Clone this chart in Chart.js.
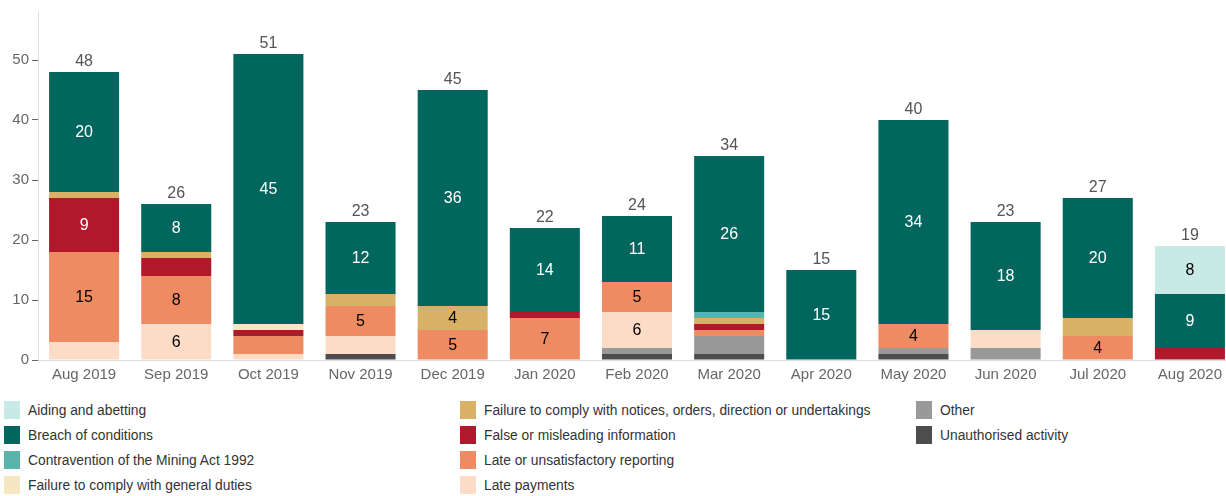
<!DOCTYPE html>
<html>
<head>
<meta charset="utf-8">
<script src="https://cdn.jsdelivr.net/npm/chart.js@4"></script>
<style>
  html, body { margin: 0; padding: 0; overflow: hidden; background: #fff; }
  body { width: 1226px; height: 496px; position: relative; font-family: "Liberation Sans", Arial, sans-serif; }
  #wrap { position: absolute; left: 0; top: 0; width: 1240px; height: 390px; }
  #legend { position: absolute; left: 4px; top: 401px; display: grid; grid-template-rows: repeat(4, 25px); grid-auto-flow: column; grid-template-columns: 456px 456px 300px; }
  .item { display: flex; align-items: flex-start; font-size: 13.8px; color: #333; line-height: 18px; }
  .box { width: 16px; height: 18px; margin-right: 8px; flex: none; }
  .item span:last-child { position: relative; top: 1px; }
</style>
</head>
<body>
<div id="wrap"><canvas id="myChart"></canvas></div>
<div id="legend"></div>
<script>
const months = ["Aug 2019", "Sep 2019", "Oct 2019", "Nov 2019", "Dec 2019", "Jan 2020", "Feb 2020",
    "Mar 2020", "Apr 2020", "May 2020", "Jun 2020", "Jul 2020", "Aug 2020"];

// stacked bottom to top
const unauthorised   = [0, 0, 0, 1, 0, 0, 1, 1, 0, 1, 0, 0, 0];
const other          = [0, 0, 0, 0, 0, 0, 1, 3, 0, 1, 2, 0, 0];
const latePayments   = [3, 6, 1, 3, 0, 0, 6, 0, 0, 0, 3, 0, 0];
const lateReporting  = [15, 8, 3, 5, 5, 7, 5, 1, 0, 4, 0, 4, 0];
const falseInfo      = [9, 3, 1, 0, 0, 1, 0, 1, 0, 0, 0, 0, 2];
const failureNotices = [1, 1, 0, 2, 4, 0, 0, 1, 0, 0, 0, 3, 0];
const failureGeneral = [0, 0, 1, 0, 0, 0, 0, 0, 0, 0, 0, 0, 0];
const contravention  = [0, 0, 0, 0, 0, 0, 0, 1, 0, 0, 0, 0, 0];
const breach         = [20, 8, 45, 12, 36, 14, 11, 26, 15, 34, 18, 20, 9];
const aiding         = [0, 0, 0, 0, 0, 0, 0, 0, 0, 0, 0, 0, 8];

const yTicks = [0, 10, 20, 30, 40, 50];

const series = [
    { label: "Unauthorised activity", data: unauthorised, color: "#4d4d4d", text: "#fff" },
    { label: "Other", data: other, color: "#999999", text: "#000" },
    { label: "Late payments", data: latePayments, color: "#fcdcc7", text: "#000" },
    { label: "Late or unsatisfactory reporting", data: lateReporting, color: "#ef8b62", text: "#000" },
    { label: "False or misleading information", data: falseInfo, color: "#b2182b", text: "#fff" },
    { label: "Failure to comply with notices, orders, direction or undertakings", data: failureNotices, color: "#d8b166", text: "#000" },
    { label: "Failure to comply with general duties", data: failureGeneral, color: "#f6e6c2", text: "#000" },
    { label: "Contravention of the Mining Act 1992", data: contravention, color: "#5ab4ac", text: "#000" },
    { label: "Breach of conditions", data: breach, color: "#01665e", text: "#fff" },
    { label: "Aiding and abetting", data: aiding, color: "#c7eae5", text: "#000" }
];

const legendOrder = ["Aiding and abetting", "Breach of conditions", "Contravention of the Mining Act 1992",
    "Failure to comply with general duties", "Failure to comply with notices, orders, direction or undertakings",
    "False or misleading information", "Late or unsatisfactory reporting", "Late payments", "Other",
    "Unauthorised activity"];

const legendEl = document.getElementById("legend");
legendOrder.forEach(name => {
    const s = series.find(d => d.label === name);
    const div = document.createElement("div");
    div.className = "item";
    div.innerHTML = '<span class="box" style="background:' + s.color + '"></span><span>' + name + '</span>';
    legendEl.appendChild(div);
});

const valueLabels = {
    id: "valueLabels",
    afterDatasetsDraw(chart) {
        const ctx = chart.ctx;
        ctx.save();
        ctx.textAlign = "center";
        ctx.textBaseline = "middle";
        ctx.font = "16px 'Liberation Sans', Arial, sans-serif";
        chart.data.datasets.forEach((ds, di) => {
            const meta = chart.getDatasetMeta(di);
            meta.data.forEach((bar, i) => {
                const v = ds.data[i];
                if (v >= 4) {
                    ctx.fillStyle = series[di].text;
                    ctx.fillText(v, bar.x, (bar.y + bar.base) / 2 + 1);
                }
            });
        });
        // totals above each bar
        ctx.fillStyle = "#555";
        months.forEach((m, i) => {
            let total = 0;
            series.forEach(s => { total += s.data[i]; });
            const y = chart.scales.y.getPixelForValue(total);
            const x = chart.scales.x.getPixelForValue(i);
            ctx.fillText(total, x, y - 10);
        });
        ctx.restore();
    }
};

new Chart("myChart", {
    type: "bar",
    data: {
        labels: months,
        datasets: series.map(s => ({
            label: s.label,
            data: s.data,
            backgroundColor: s.color,
            borderWidth: 0,
            categoryPercentage: 1,
            barPercentage: 0.76
        }))
    },
    options: {
        responsive: true,
        maintainAspectRatio: false,
        animation: false,
        layout: { padding: { top: 10, right: 4, bottom: 0, left: 0 } },
        plugins: {
            legend: { display: false },
            tooltip: { enabled: false }
        },
        scales: {
            x: {
                stacked: true,
                grid: { display: false, drawTicks: false },
                border: { color: "#dddddd" },
                ticks: {
                    color: "#666",
                    padding: 6,
                    autoSkip: false,
                    maxRotation: 0,
                    font: { family: "'Liberation Sans', Arial, sans-serif", size: 15 }
                }
            },
            y: {
                stacked: true,
                min: 0,
                max: 58,
                afterFit: (scale) => { scale.width = 38; },
                afterBuildTicks: (scale) => { scale.ticks = yTicks.map(v => ({ value: v })); },
                grid: { drawOnChartArea: false, drawTicks: true, tickLength: 6, color: "#666" },
                border: { color: "#dddddd" },
                ticks: {
                    color: "#666",
                    padding: 3,
                    font: { family: "'Liberation Sans', Arial, sans-serif", size: 15 }
                }
            }
        }
    },
    plugins: [valueLabels]
});
</script>
</body>
</html>
